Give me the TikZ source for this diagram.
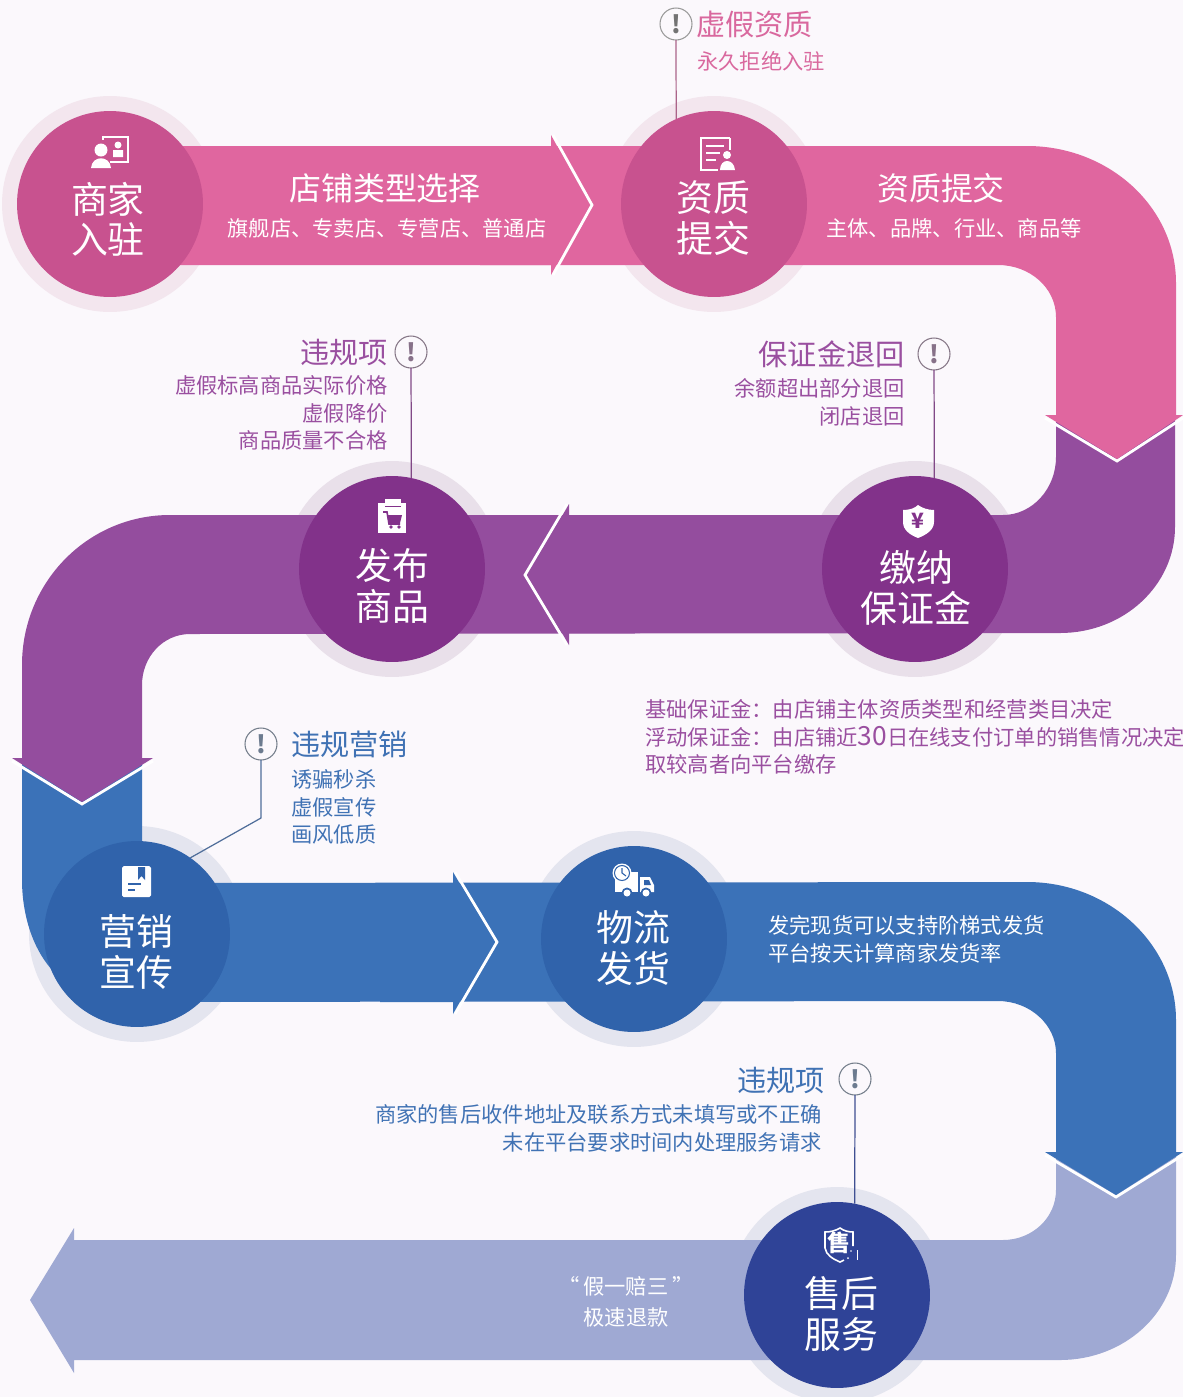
\documentclass[tikz,border=0pt]{standalone}
\usepackage{fontspec}
\setmainfont{Noto Sans CJK SC}
\usetikzlibrary{positioning}
\definecolor{bgc}{HTML}{FBF8FC}
\definecolor{bandp}{HTML}{E0669F}
\definecolor{bandv}{HTML}{944D9E}
\definecolor{bandb}{HTML}{3B72B8}
\definecolor{bandi}{HTML}{9FA9D3}
\definecolor{circp}{HTML}{C8528F}
\definecolor{circv}{HTML}{82328A}
\definecolor{circb}{HTML}{3063AB}
\definecolor{circi}{HTML}{2F4397}
\definecolor{halop}{HTML}{F3E6EE}
\definecolor{halov}{HTML}{E9E0EA}
\definecolor{halob}{HTML}{E4E5EF}
\definecolor{textp}{HTML}{D9689E}
\definecolor{textv}{HTML}{9A4FA0}
\definecolor{textb}{HTML}{4072B4}
\tikzset{
    step node/.style = {circle, minimum size=3.72cm, inner sep=0pt, outer sep=0pt},
    halo node/.style = {circle, minimum size=4.32cm, inner sep=0pt, outer sep=0pt},
    alert node/.style = {circle, semithick, minimum size=0.64cm, inner sep=0pt, outer sep=0pt, fill=bgc, font=\fontsize{14}{14}\bfseries\selectfont},
    steptxt/.style = {white, align=center, inner sep=0pt, font=\fontsize{21}{23}\selectfont},
    headtxt/.style = {inner sep=0pt, font=\fontsize{16.6}{20}\selectfont},
    subtxt/.style = {inner sep=0pt, font=\fontsize{12.1}{15.8}\selectfont},
    chev/.style = {white, line width=1.6pt, line join=miter},
    link/.style = {line width=0.7pt},
    icon/.style = {white, line width=0.9pt},
}
\begin{document}
\begin{tikzpicture}[x=0.02cm,y=-0.02cm]
  \useasboundingbox (0,0) rectangle (1183,1397);
  \fill[bgc] (0,0) rectangle (1183,1397);

  \node[halo node, fill=halop] (h1) at (110,204) {};
  \node[halo node, fill=halop] (h2) at (714,204) {};
  \node[halo node, fill=halov] (h3) at (915,569) {};
  \node[halo node, fill=halov] (h4) at (392,569) {};
  \node[halo node, fill=halob] (h5) at (137,934) {};
  \node[halo node, fill=halob] (h6) at (634,939) {};
  \node[halo node, fill=halob] (h7) at (837,1295) {};

  % bottom band first, each arrow lies on the next one
  \fill[bandi] (74,1240) -- (74,1228) -- (30,1300) -- (74,1373) -- (74,1360) -- (1060,1360)
     .. controls (1124,1360) and (1176,1313) .. (1176,1255) -- (1176,1155) -- (1056,1155) -- (1056,1190)
     .. controls (1056,1218) and (1032,1240) .. (1003,1240) -- cycle;
  \draw[chev] (1045,1155) -- (1116,1197) -- (1183,1155);
  \fill[bandb] (22,760) -- (22,880) .. controls (22,930) and (45,1002) .. (130,1002) -- (998,1001)
     .. controls (1030,1001) and (1056,1025) .. (1056,1053) -- (1056,1152) -- (1045,1152) -- (1116,1195) -- (1183,1152) -- (1176,1152) -- (1176,1020)
     .. controls (1176,944) and (1109,882) .. (1027,882) -- (142,883) -- (142,760) -- cycle;
  \draw[chev] (455,872) -- (497,942) -- (455,1014);
  \fill[bandb] (380,883) -- (453,883) -- (453,872) -- (494,942) -- (453,1014) -- (453,1002) -- (380,1002) -- cycle;
  \draw[chev] (12,761) -- (82,804) -- (153,761);
  \fill[bandv] (1056,420) -- (1056,457) .. controls (1056,489) and (1032,515) .. (1003,515) -- (170,515)
     .. controls (88,515) and (22,582) .. (22,665) -- (22,758) -- (12,758) -- (82,802) -- (153,758) -- (142,758) -- (142,685)
     .. controls (142,657) and (163,634) .. (190,634) -- (1060,633)
     .. controls (1124,633) and (1175,585) .. (1175,527) -- (1175,420) -- cycle;
  \draw[chev] (567,504) -- (525,575) -- (567,645);
  \fill[bandv] (640,515) -- (569,515) -- (569,504) -- (528,575) -- (569,645) -- (569,633) -- (640,633) -- cycle;
  \draw[chev] (1045,418) -- (1117,461) -- (1183,418);
  \fill[bandp] (110,146) -- (1027,146) .. controls (1109,146) and (1176,207) .. (1176,283) -- (1176,415) -- (1183,415) -- (1117,459) -- (1045,415) -- (1056,415) -- (1056,317)
     .. controls (1056,288) and (1030,265) .. (998,265) -- (110,265) -- cycle;
  \draw[chev] (553,135) -- (592,205) -- (553,275);
  \fill[bandp] (480,146) -- (551,146) -- (551,135) -- (589,205) -- (551,275) -- (551,265) -- (480,265) -- cycle;

  \node[step node, fill=circp] (s1) at (110,204) {};
  \node[step node, fill=circp] (s2) at (714,204) {};
  \node[step node, fill=circv] (s3) at (915,569) {};
  \node[step node, fill=circv] (s4) at (392,569) {};
  \node[step node, fill=circb] (s5) at (137,934) {};
  \node[step node, fill=circb] (s6) at (634,939) {};
  \node[step node, fill=circi] (s7) at (837,1295) {};

  \node[steptxt] (t1) at (108,219) {商家\\入驻};
  \node[steptxt] (t2) at (713,218) {资质\\提交};
  \node[steptxt] (t3) at (916,588) {缴纳\\保证金};
  \node[steptxt] (t4) at (392,586) {发布\\商品};
  \node[steptxt] (t5) at (136,952) {营销\\宣传};
  \node[steptxt] (t6) at (633,948) {物流\\发货};
  \node[steptxt] (t7) at (841,1314) {售后\\服务};

  \node[alert node, draw=gray!80, text=gray!90!black] (a1) at (676,24) {!};
  \node[alert node, draw=gray!80!textv, text=gray!70!textv] (a2) at (411,352) {!};
  \node[alert node, draw=gray!80!textv, text=gray!70!textv] (a3) at (934,354) {!};
  \node[alert node, draw=gray!80!textb, text=gray!70!textb] (a4) at (261,744) {!};
  \node[alert node, draw=gray!80!textb, text=gray!70!textb] (a5) at (855,1079) {!};
  \coordinate (a4b) at (261,818);

  \draw[link, draw=circp!60!gray] (a1) -- (s2.114);
  \draw[link, draw=circv!70!gray] (a2) -- (s4.78);
  \draw[link, draw=circv!70!gray] (a3) -- (s3.78);
  \draw[link, draw=circb!60!gray] (a4) -- (a4b) -- (s5.55);
  \draw[link, draw=circi!80!gray] (a5) -- (s7.79);

  \node[headtxt, white, font=\fontsize{18.2}{20}\selectfont] (b1) at (385,188) {店铺类型选择};
  \node[subtxt, white] (b2) at (387,228) {旗舰店、专卖店、专营店、普通店};
  \node[headtxt, white, font=\fontsize{18.2}{20}\selectfont] (b3) at (941,188) {资质提交};
  \node[subtxt, white] (b4) at (954,228) {主体、品牌、行业、商品等};

  \node[headtxt, textp, anchor=west] (n1) at (696,24) {虚假资质};
  \node[subtxt, textp, anchor=west] (n2) at (697,61) {永久拒绝入驻};

  \node[headtxt, textv, anchor=east] (n3) at (388,352) {违规项};
  \node[subtxt, textv, anchor=east, align=right] (n4) at (388,413) {虚假标高商品实际价格\\虚假降价\\商品质量不合格};

  \node[headtxt, textv, anchor=east] (n5) at (905,354) {保证金退回};
  \node[subtxt, textv, anchor=east, align=right] (n6) at (905,402) {余额超出部分退回\\闭店退回};

  \node[subtxt, textv, anchor=west, align=left] (n7) at (645,737) {基础保证金：由店铺主体资质类型和经营类目决定\\浮动保证金：由店铺近{\fontsize{15}{15.8}\selectfont 30}日在线支付订单的销售情况决定\\取较高者向平台缴存};

  \node[headtxt, textb, anchor=west] (n8) at (291,744) {违规营销};
  \node[subtxt, textb, anchor=west, align=left] (n9) at (291,807) {诱骗秒杀\\虚假宣传\\画风低质};

  \node[subtxt, white, anchor=west, align=left] (n10) at (768,939) {发完现货可以支持阶梯式发货\\平台按天计算商家发货率};

  \node[headtxt, textb, anchor=east] (n11) at (825,1080) {违规项};
  \node[subtxt, textb, anchor=east, align=right] (n12) at (822,1128) {商家的售后收件地址及联系方式未填写或不正确\\未在平台要求时间内处理服务请求};

  \node[subtxt, white, align=center, font=\fontsize{12.1}{17.5}\selectfont] (n13) at (626,1302) {“\hspace{2pt}假一赔三\hspace{2pt}”\\极速退款};

  % icons
  \draw[icon] (103,137) rectangle (128,162);
  \fill[white] (118,145) circle (3.5) (113,150) rectangle (123,157);
  \fill[circp] (99,140) rectangle (110,170);
  \fill[white] (101,150) circle (6.5) (91,168) .. controls (92,155) and (110,155) .. (111,168) -- cycle;

  \draw[icon] (730,138) -- (701,138) -- (701,170) -- (718,170);
  \draw[icon] (706,146) -- (724,146) (706,153) -- (720,153) (706,160) -- (716,160);
  \draw[icon] (730,138) -- (730,150);
  \fill[white] (727,155) circle (4) (720,170) .. controls (720,158) and (734,158) .. (735,170) -- cycle;

  \fill[white] (903,510) .. controls (910,510) and (915,508) .. (918,505) .. controls (922,508) and (928,510) .. (934,510) -- (934,522) .. controls (934,530) and (926,535) .. (918,538) .. controls (910,535) and (903,530) .. (903,522) -- cycle;
  \node[circv, inner sep=0pt, font=\fontsize{12}{12}\bfseries\selectfont] (y1) at (918,521) {¥};

  \fill[white] (378,503) rectangle (406,533);
  \fill[white] (385,499) rectangle (401,506);
  \draw[circv, line width=0.5pt] (385,506) -- (401,506);
  \draw[circv, line width=0.9pt] (383,512) -- (387,512) -- (389,524) -- (400,524);
  \fill[circv] (387,515) -- (402,515) -- (400,523) -- (389,523) -- cycle;
  \fill[circv] (391,527) circle (1.8) (399,527) circle (1.8);

  \fill[white, rounded corners=1pt] (122,866) rectangle (151,897);
  \fill[circb] (138,867) -- (145,867) -- (145,880) -- (141.5,876) -- (138,880) -- cycle;
  \draw[circb, line width=0.9pt] (128,884) -- (141,884) (128,890) -- (135,890);

  \fill[white] (615,872) rectangle (638,892);
  \fill[white] (640,877) -- (650,877) -- (654,885) -- (654,892) -- (640,892) -- cycle;
  \fill[circb] (644,880) -- (649,880) -- (651,885) -- (644,885) -- cycle;
  \fill[white] (622,873) circle (9.5);
  \draw[circb, line width=0.6pt] (622,873) circle (7.5) (622,868) -- (622,873) -- (626,876);
  \fill[circb] (627,893) circle (5.5) (646,893) circle (5.5);
  \fill[white] (627,893) circle (3.5) (646,893) circle (3.5);

  \draw[icon] (853,1246) -- (853,1232) .. controls (849,1232) and (844,1231) .. (840,1228) .. controls (835,1231) and (830,1232) .. (825,1232) -- (825,1248) .. controls (826,1255) and (833,1259) .. (840,1262) -- (844,1260);
  \draw[white, line width=0.5pt] (857,1250) -- (857,1260);
  \fill[white] (848,1258) circle (1) (851,1251) circle (0.8);
  \node[white, inner sep=0pt, font=\fontsize{13}{13}\bfseries\selectfont] (y2) at (839,1243) {售};
\end{tikzpicture}
\end{document}
